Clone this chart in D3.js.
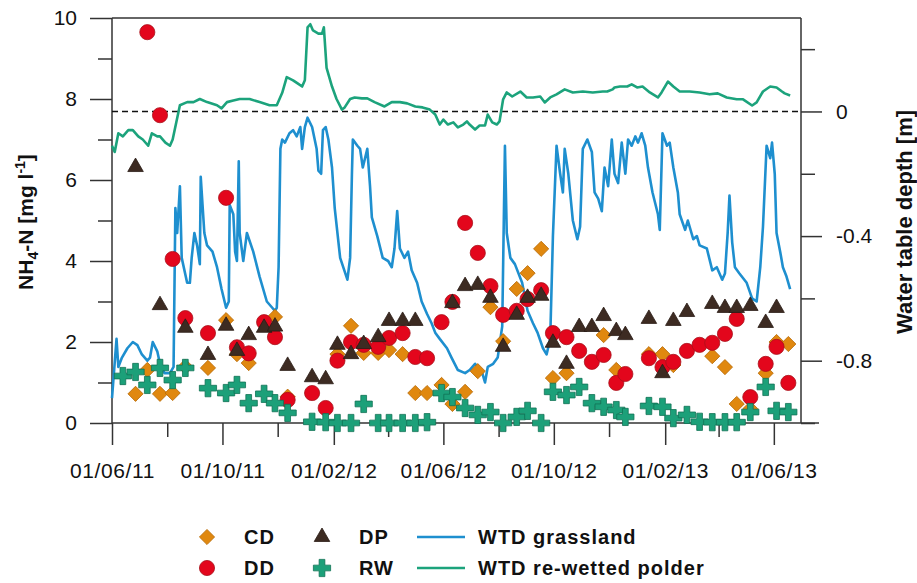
<!DOCTYPE html>
<html>
<head>
<meta charset="utf-8">
<style>
  body { margin: 0; background: #fff; }
  svg { font-family: "Liberation Sans", Arial, sans-serif; }
  .axis .domain { display: none; }
  .axis .tick line { stroke: #333; stroke-width: 1.5; }
  .axis .tick text { font-size: 21px; fill: #111; }
  .x .tick text { letter-spacing: 0.6px; }
  .legend text { font-size: 20px; font-weight: bold; letter-spacing: 1px; fill: #111; }
</style>
</head>
<body>
<svg width="917" height="583"></svg>

<script src="https://cdn.jsdelivr.net/npm/d3@7"></script>
<script>
// sampling dates of the NH4-N measurements
const sampleDates = [
  "2011-06-13","2011-06-27","2011-07-10","2011-07-24","2011-08-07","2011-08-21","2011-09-15",
  "2011-10-05","2011-10-17","2011-10-30","2011-11-16","2011-11-28","2011-12-12","2012-01-08",
  "2012-01-23","2012-02-05","2012-02-20","2012-03-05","2012-03-21","2012-04-02","2012-04-17",
  "2012-05-01","2012-05-14","2012-05-30","2012-06-11","2012-06-25","2012-07-09","2012-07-23",
  "2012-08-06","2012-08-21","2012-09-02","2012-09-17","2012-09-30","2012-10-15","2012-10-29",
  "2012-11-12","2012-11-25","2012-12-09","2012-12-19","2013-01-14","2013-01-29","2013-02-10",
  "2013-02-25","2013-03-11","2013-03-25","2013-04-08","2013-04-21","2013-05-06","2013-05-23",
  "2013-06-04","2013-06-17"
];

// NH4-N [mg/l], null = no sample
const cdValues = [null,0.72,1.31,0.72,0.74,1.39,1.36,2.54,1.7,1.48,null,2.62,0.65,null,null,1.7,2.4,1.73,1.73,1.8,1.7,
  0.74,0.74,0.94,0.47,0.77,1.28,2.86,2.02,3.31,3.7,4.3,1.11,1.23,null,null,2.17,1.31,null,1.7,1.7,1.43,null,null,
  1.65,1.38,0.47,0.35,1.23,2.0,1.95];
const ddValues = [null,null,9.65,7.6,4.05,2.59,2.22,5.56,1.87,1.72,2.49,2.12,0.57,0.74,0.37,1.54,2.0,1.93,1.88,2.1,2.22,
  1.63,1.6,2.49,2.99,4.94,4.2,3.38,2.67,2.77,3.06,3.28,2.22,2.12,1.78,1.51,1.68,0.99,1.21,1.6,1.38,1.51,1.78,1.93,
  1.98,2.2,2.57,0.64,1.46,1.88,0.99];
const dpValues = [null,6.32,null,2.91,null,2.35,1.68,2.4,1.78,2.17,2.35,2.38,1.41,1.13,1.08,1.93,1.7,1.95,2.12,2.52,2.52,
  2.52,null,null,2.96,3.38,3.41,3.09,1.88,2.67,3.09,3.14,1.98,1.46,2.37,2.37,2.64,2.27,2.17,2.57,1.23,2.52,2.74,null,
  2.94,2.84,2.84,2.89,2.47,2.84,null];
const rwValues = [1.16,1.26,0.94,1.36,1.06,1.36,0.86,0.74,0.94,0.49,0.72,0.49,0.25,0.03,0.02,0,0,0.47,0,0,0,
  0,0.02,0.74,0.64,0.37,0.2,0.27,0,0.15,0.3,0,0.77,0.69,0.89,0.49,0.4,0.32,0.15,0.42,0.4,0.12,0.2,0.03,
  0.02,0.02,0.02,0.27,0.89,0.3,0.27];

// water table depth [m]: [days after wtdStart, depth]
const wtdStart = "2011-06-01";
const grassWtd = [
  [0,-0.92],[5,-0.73],[7,-0.82],[11,-0.79],[17,-0.76],[23,-0.74],[28,-0.75],[33,-0.78],[39,-0.80],[42,-0.79],
  [45,-0.74],[50,-0.77],[53,-0.81],[58,-0.84],[64,-0.84],[68,-0.82],[70,-0.31],[72,-0.39],[75,-0.24],[77,-0.47],
  [83,-0.55],[86,-0.55],[88,-0.47],[91,-0.39],[94,-0.43],[97,-0.49],[98,-0.21],[102,-0.39],[105,-0.43],[111,-0.45],
  [116,-0.50],[121,-0.57],[126,-0.63],[129,-0.61],[130,-0.30],[134,-0.33],[136,-0.45],[138,-0.48],[140,-0.16],[141,-0.39],
  [145,-0.48],[149,-0.39],[156,-0.45],[163,-0.53],[171,-0.61],[177,-0.63],[180,-0.64],[182,-0.63],[184,-0.50],[186,-0.12],
  [188,-0.09],[191,-0.10],[196,-0.07],[200,-0.06],[204,-0.08],[208,-0.05],[210,-0.12],[213,-0.05],[216,-0.02],[221,-0.05],
  [226,-0.12],[228,-0.19],[231,-0.20],[233,-0.06],[236,-0.05],[239,-0.09],[243,-0.18],[246,-0.31],[252,-0.47],[260,-0.54],
  [263,-0.47],[265,-0.20],[266,-0.09],[271,-0.11],[274,-0.12],[277,-0.18],[282,-0.12],[285,-0.24],[287,-0.34],[293,-0.40],
  [299,-0.47],[305,-0.48],[309,-0.50],[312,-0.44],[315,-0.32],[318,-0.44],[323,-0.47],[327,-0.45],[331,-0.51],[337,-0.55],
  [342,-0.61],[348,-0.65],[353,-0.68],[357,-0.71],[362,-0.73],[370,-0.76],[375,-0.79],[382,-0.83],[390,-0.84],[395,-0.83],
  [401,-0.81],[409,-0.84],[412,-0.87],[415,-0.82],[421,-0.81],[426,-0.79],[431,-0.69],[433,-0.30],[434,-0.11],[436,-0.39],
  [440,-0.47],[445,-0.49],[453,-0.55],[459,-0.64],[465,-0.68],[470,-0.71],[476,-0.76],[480,-0.78],[484,-0.73],[487,-0.40],
  [491,-0.11],[495,-0.20],[498,-0.26],[500,-0.12],[504,-0.20],[509,-0.35],[514,-0.41],[517,-0.37],[520,-0.12],[525,-0.09],
  [530,-0.13],[533,-0.26],[537,-0.28],[541,-0.32],[544,-0.18],[548,-0.24],[552,-0.09],[555,-0.20],[559,-0.23],[563,-0.10],
  [567,-0.20],[570,-0.09],[574,-0.11],[578,-0.08],[581,-0.10],[585,-0.07],[589,-0.11],[592,-0.18],[597,-0.26],[603,-0.33],
  [605,-0.38],[608,-0.07],[613,-0.11],[616,-0.10],[620,-0.18],[625,-0.26],[627,-0.33],[633,-0.38],[636,-0.35],[642,-0.41],
  [646,-0.40],[649,-0.43],[657,-0.44],[663,-0.51],[668,-0.50],[674,-0.54],[677,-0.52],[680,-0.39],[682,-0.27],[685,-0.42],
  [688,-0.50],[693,-0.52],[701,-0.55],[707,-0.60],[712,-0.61],[716,-0.50],[719,-0.37],[723,-0.11],[727,-0.15],[729,-0.10],
  [732,-0.20],[734,-0.39],[738,-0.45],[741,-0.50],[745,-0.53],[749,-0.57]
];
const polderWtd = [
  [0,-0.11],[3,-0.13],[7,-0.07],[12,-0.08],[18,-0.06],[23,-0.06],[29,-0.08],[34,-0.09],[40,-0.11],[44,-0.07],
  [50,-0.08],[53,-0.08],[59,-0.10],[64,-0.11],[67,-0.09],[75,0.02],[83,0.03],[90,0.03],[97,0.04],[105,0.03],
  [116,0.02],[121,0.01],[127,0.03],[134,0.035],[141,0.04],[152,0.04],[163,0.03],[174,0.02],[182,0.02],[188,0.06],
  [193,0.11],[200,0.10],[205,0.09],[210,0.08],[213,0.10],[216,0.27],[219,0.28],[222,0.26],[228,0.25],[232,0.25],
  [234,0.27],[237,0.14],[243,0.08],[248,0.04],[254,0.006],[257,0.013],[263,0.04],[268,0.045],[276,0.042],[282,0.042],
  [290,0.03],[301,0.016],[309,0.03],[318,0.03],[326,0.026],[335,0.016],[343,0.013],[351,0.006],[357,-0.01],[362,-0.042],
  [366,-0.026],[371,-0.042],[377,-0.035],[382,-0.051],[388,-0.042],[392,-0.032],[395,-0.042],[401,-0.058],[406,-0.045],[412,-0.045],
  [415,-0.01],[420,-0.035],[425,-0.042],[428,-0.032],[432,0.039],[436,0.061],[442,0.048],[451,0.064],[458,0.045],[465,0.045],
  [473,0.048],[478,0.029],[484,0.045],[491,0.055],[500,0.071],[509,0.061],[520,0.064],[531,0.061],[542,0.064],[547,0.064],
  [553,0.071],[555,0.077],[561,0.08],[569,0.08],[574,0.087],[580,0.077],[586,0.08],[594,0.061],[603,0.045],[607,0.061],
  [614,0.096],[620,0.08],[627,0.064],[638,0.064],[649,0.061],[660,0.055],[669,0.058],[679,0.045],[690,0.039],[697,0.039],
  [707,0.019],[712,0.029],[719,0.064],[727,0.08],[734,0.077],[740,0.064],[743,0.058],[749,0.051]
];

const xMajorTicks = ["2011-06-01","2011-10-01","2012-02-01","2012-06-01","2012-10-01","2013-02-01","2013-06-01"];
const xMinorTicks = ["2011-08-01","2011-12-01","2012-04-01","2012-08-01","2012-12-01","2013-04-01"];
const leftMajor = [0, 2, 4, 6, 8, 10];
const leftMinor = [1, 3, 5, 7, 9];
const rightMajor = [0, -0.4, -0.8];
const rightMinor = [0.2, -0.2, -0.6, -1.0];

const parse = d3.timeParse("%Y-%m-%d");
const svg = d3.select("svg");

const plotLeft = 112, plotRight = 801, plotTop = 18, plotBottom = 423;

let x = d3.scaleTime()
  .domain([parse("2011-06-01"), parse("2013-07-01")])
  .range([plotLeft, plotRight]);
let y = d3.scaleLinear().domain([0, 10]).range([plotBottom, plotTop]);
let yR = d3.scaleLinear().domain([-1.0, 0.3]).range([plotBottom, plotTop]);

// frame: top line and the axis lines
function frameLine(x1, y1, x2, y2) {
  svg.append("line").attr("x1", x1).attr("y1", y1).attr("x2", x2).attr("y2", y2)
    .attr("stroke", "#333").attr("stroke-width", 1.5);
}
frameLine(plotLeft, plotTop, plotRight, plotTop);
frameLine(plotLeft, plotTop, plotLeft, plotBottom);
frameLine(plotRight, plotTop, plotRight, plotBottom);
frameLine(plotLeft, plotBottom, plotRight + 18, plotBottom);

// x axis
svg.append("g").attr("class", "x axis")
  .attr("transform", `translate(0,${plotBottom})`)
  .call(d3.axisBottom(x).tickValues(xMajorTicks.map(parse)).tickSize(22).tickPadding(18)
    .tickFormat(d3.timeFormat("%d/%m/%y")));
svg.append("g").attr("class", "x axis")
  .attr("transform", `translate(0,${plotBottom})`)
  .call(d3.axisBottom(x).tickValues(xMinorTicks.map(parse)).tickSize(14).tickFormat(""));

// left axis
svg.append("g").attr("class", "y axis")
  .attr("transform", `translate(${plotLeft},0)`)
  .call(d3.axisLeft(y).tickValues(leftMajor).tickSize(22).tickPadding(13));
svg.append("g").attr("class", "y axis")
  .attr("transform", `translate(${plotLeft},0)`)
  .call(d3.axisLeft(y).tickValues(leftMinor).tickSize(14).tickFormat(""));

// right axis
svg.append("g").attr("class", "yr axis")
  .attr("transform", `translate(${plotRight},0)`)
  .call(d3.axisRight(yR).tickValues(rightMajor).tickSize(21).tickPadding(14)
    .tickFormat(d => d === 0 ? "0" : d3.format(".1f")(d).replace("−", "-")));
svg.append("g").attr("class", "yr axis")
  .attr("transform", `translate(${plotRight},0)`)
  .call(d3.axisRight(yR).tickValues(rightMinor).tickSize(14).tickFormat(""));

// zero water table line
svg.append("line")
  .attr("x1", plotLeft).attr("x2", plotRight)
  .attr("y1", yR(0)).attr("y2", yR(0))
  .attr("stroke", "#111").attr("stroke-width", 1.6)
  .attr("stroke-dasharray", "6,4");

// water table lines
const start = parse(wtdStart);
let wtdLine = d3.line()
  .x(d => x(d3.timeDay.offset(start, d[0])))
  .y(d => yR(d[1]));

svg.append("path").datum(grassWtd)
  .attr("d", wtdLine).attr("fill", "none")
  .attr("stroke", "#1e8fcf").attr("stroke-width", 2.6).attr("stroke-linejoin", "round");
svg.append("path").datum(polderWtd)
  .attr("d", wtdLine).attr("fill", "none")
  .attr("stroke", "#1ca37c").attr("stroke-width", 2.6).attr("stroke-linejoin", "round");

// markers
const series = [
  { name: "CD", values: cdValues, symbol: d3.symbolSquare, size: 115, rotate: 45, fill: "#e0880f", stroke: "#b86c08" },
  { name: "DD", values: ddValues, symbol: d3.symbolCircle, size: 180, rotate: 0, fill: "#e3061c", stroke: "#a8101a" },
  { name: "DP", values: dpValues, symbol: d3.symbolTriangle, size: 105, rotate: 0, fill: "#3d2b22", stroke: "#2a1c15" },
  { name: "RW", values: rwValues, symbol: d3.symbolCross, size: 165, rotate: 0, fill: "#1ca079", stroke: "#127256" }
];

series.forEach(s => {
  let pts = sampleDates.map((d, i) => ({ date: parse(d), v: s.values[i] }))
    .filter(p => p.v !== null);
  svg.append("g").attr("class", "marks-" + s.name)
    .selectAll("path")
    .data(pts)
    .join("path")
    .attr("d", d3.symbol().type(s.symbol).size(s.size))
    .attr("transform", p => `translate(${x(p.date)},${y(p.v)}) rotate(${s.rotate})`)
    .attr("fill", s.fill)
    .attr("stroke", s.stroke)
    .attr("stroke-width", 0.8);
});

// axis titles
let yTitle = svg.append("text")
  .attr("transform", "translate(33,222) rotate(-90)")
  .attr("text-anchor", "middle")
  .attr("font-size", 21).attr("font-weight", "bold").attr("fill", "#111");
yTitle.append("tspan").text("NH");
yTitle.append("tspan").text("4").attr("font-size", 14).attr("dy", 5);
yTitle.append("tspan").text("-N [mg l").attr("dy", -5);
yTitle.append("tspan").text("-1").attr("font-size", 14).attr("dy", -8);
yTitle.append("tspan").text("]").attr("dy", 8);

svg.append("text")
  .attr("transform", "translate(912,222) rotate(-90)")
  .attr("text-anchor", "middle")
  .attr("font-size", 22).attr("font-weight", "bold").attr("fill", "#111")
  .text("Water table depth [m]");

// legend
const legendRows = [537, 568];
let legend = svg.append("g").attr("class", "legend");
const markerLegend = [
  { s: series[0], col: 207, row: 0 },
  { s: series[2], col: 322, row: 0 },
  { s: series[1], col: 207, row: 1 },
  { s: series[3], col: 322, row: 1 }
];
markerLegend.forEach(m => {
  legend.append("path")
    .attr("d", d3.symbol().type(m.s.symbol).size(m.s.size)())
    .attr("transform", `translate(${m.col},${legendRows[m.row]}) rotate(${m.s.rotate})`)
    .attr("fill", m.s.fill).attr("stroke", m.s.stroke).attr("stroke-width", 0.8);
  legend.append("text").attr("x", m.col + 37).attr("y", legendRows[m.row] + 7).text(m.s.name);
});
const lineLegend = [
  { label: "WTD grassland", color: "#1e8fcf", row: 0 },
  { label: "WTD re-wetted polder", color: "#1ca37c", row: 1 }
];
lineLegend.forEach(l => {
  legend.append("line")
    .attr("x1", 417).attr("x2", 465)
    .attr("y1", legendRows[l.row]).attr("y2", legendRows[l.row])
    .attr("stroke", l.color).attr("stroke-width", 2.6);
  legend.append("text").attr("x", 478).attr("y", legendRows[l.row] + 7).text(l.label);
});
</script>
</body>
</html>
